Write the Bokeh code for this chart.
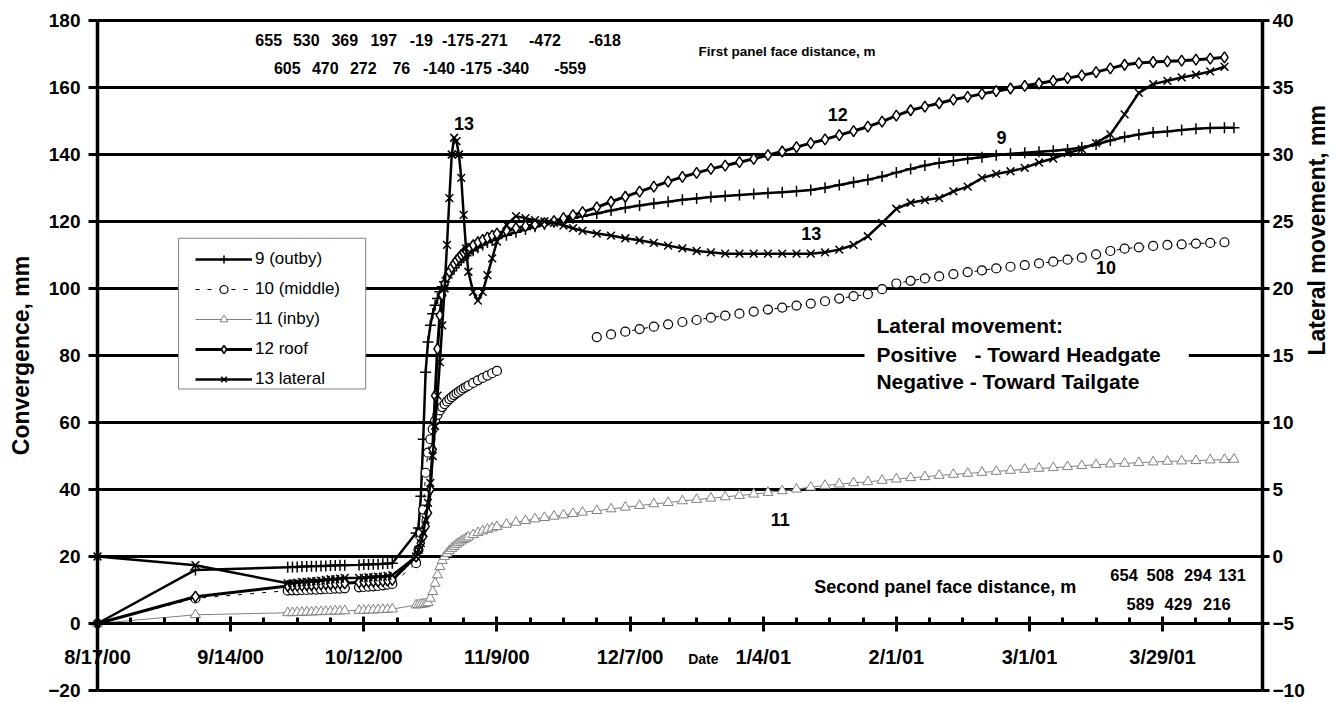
import math
import numpy as np
from datetime import date
from bokeh.plotting import figure
from bokeh.models import Range1d, LinearAxis, FixedTicker, Legend, LegendItem
from bokeh.core.properties import value
from bokeh.embed import file_html
from bokeh.resources import INLINE

NaN = float("nan")

# ---------------- data ----------------
START = date(2000, 8, 17)
END = date(2001, 4, 19)
TICK_DATES = [date(2000, 8, 17), date(2000, 9, 14), date(2000, 10, 12), date(2000, 11, 9),
              date(2000, 12, 7), date(2001, 1, 4), date(2001, 2, 1), date(2001, 3, 1),
              date(2001, 3, 29)]
CONV_TICKS = list(range(-20, 181, 20))
LAT_TICKS = list(range(-10, 41, 5))

# days since 8/17/00
days = [0, 20.6,
        40, 41, 42, 43, 44, 45, 46, 47, 48, 49, 50, 51, 52,
        55, 56, 57, 58, 59, 60, 61, 62,
        67, 67.5, 68, 68.5, 69, 69.5, 70, 70.5, 71, 71.5, 72, 72.5, 73, 73.5, 74, 74.5, 75, 75.5, 76, 76.5, 77, 77.5, 78,
        79, 80, 81, 82, 83, 84,
        86, 88, 90, 92, 94, 96, 98, 100, 102,
        105, 108, 111, 114, 117, 120, 123, 126, 129, 132, 135, 138, 141, 144, 147, 150, 153, 156, 159, 162,
        165, 168, 171, 174, 177, 180, 183, 186, 189, 192, 195, 198, 201, 204, 207, 210, 213, 216, 219, 222,
        225, 228, 231, 234, 237,
        239]

conv_9 = [0, 16,
          16.8, 16.9, 16.9, 17.0, 17.0, 17.1, 17.1, 17.2, 17.2, 17.3, 17.3, 17.4, 17.4,
          17.5, 17.6, 17.6, 17.7, 17.7, 17.8, 17.9, 18.0,
          27, 28.5, 38, 55, 75, 84, 89, 92.5, 95, 97, 99, 100.5, 102, 103.2, 104.3, 105.3, 106.2, 107, 107.8, 108.5, 109.2, 109.8, 110.4,
          111.3, 112.2, 113, 113.7, 114.3, 114.9,
          115.9, 116.8, 117.6, 118.4, 119.1, 119.8, 120.4, 121, 121.6,
          122.4, 123.3, 124.1, 124.8, 125.4, 125.9, 126.5, 126.9, 127.3, 127.6, 127.9, 128.2, 128.5, 128.7, 129, 129.4, 130.1, 130.9, 131.7, 132.5,
          133.4, 134.6, 135.7, 136.7, 137.5, 138.1, 138.7, 139.2, 139.8, 140.2, 140.5, 140.8, 141.1, 141.5, 142.1, 143, 144.2, 145.2, 146, 146.6,
          146.9, 147.3, 147.7, 147.9, 148,
          148]

conv_10 = [0, 7.5,
           9.8, 9.9, 9.9, 10.0, 10.0, 10.1, 10.1, 10.2, 10.3, 10.3, 10.4, 10.4, 10.5,
           10.8, 10.9, 11.0, 11.1, 11.2, 11.4, 11.6, 11.8,
           18, 22, 27, 34, 45, 51, 55, 58, 60.5, 62.3, 63.6, 64.6, 65.5, 66.3, 67, 67.6, 68.2, 68.7, 69.2, 69.7, 70.2, 70.6, 71,
           71.8, 72.6, 73.3, 74, 74.7, 75.4,
           NaN, NaN, NaN, NaN, NaN, NaN, NaN, NaN, NaN,
           85.5, 86.3, 87.1, 87.9, 88.6, 89.3, 90, 90.6, 91.3, 91.9, 92.5, 93.1, 93.7, 94.3, 94.9, 95.5, 96.2, 97, 97.7, 98.3,
           99.8, 101.5, 102.3, 103, 103.6, 104.3, 104.9, 105.4, 106, 106.5, 107, 107.5, 108, 108.6, 109.2, 110.2, 111.2, 111.9, 112.3, 112.7,
           113, 113.2, 113.4, 113.6, 113.8,
           NaN]

conv_11 = [0, 2.6,
           3.2, 3.2, 3.3, 3.3, 3.4, 3.4, 3.5, 3.5, 3.6, 3.6, 3.7, 3.7, 3.8,
           3.9, 3.9, 4.0, 4.0, 4.1, 4.2, 4.2, 4.3,
           5.5, 5.6, 5.7, 5.8, 5.9, 6.2, 7.5, 9.5, 12, 14.5, 17, 18.8, 20, 20.9, 21.7, 22.4, 23, 23.6, 24.1, 24.6, 25, 25.4, 25.8,
           26.5, 27.1, 27.6, 28.1, 28.5, 28.9,
           29.6, 30.2, 30.7, 31.2, 31.6, 32, 32.4, 32.8, 33.2,
           33.7, 34.2, 34.7, 35.2, 35.7, 36.1, 36.6, 37, 37.4, 37.8, 38.2, 38.6, 39.1, 39.6, 40.1, 40.7, 41.2, 41.6, 42, 42.3,
           42.7, 43.1, 43.5, 43.8, 44.2, 44.5, 44.8, 45.1, 45.4, 45.7, 46, 46.3, 46.5, 46.8, 47.1, 47.4, 47.6, 47.8, 48, 48.2,
           48.4, 48.5, 48.6, 48.8, 48.9,
           49]

conv_12 = [0, 8,
           11.2, 11.3, 11.3, 11.4, 11.5, 11.5, 11.6, 11.7, 11.8, 11.8, 11.9, 12.0, 12.0,
           12.3, 12.4, 12.5, 12.6, 12.6, 12.7, 12.8, 13.0,
           20, 22, 24, 26, 29, 33, 40, 52, 68, 82, 92, 98, 101.5, 103.5, 105, 106.3, 107.4, 108.4, 109.2, 110, 110.7, 111.3, 111.9,
           112.9, 113.8, 114.5, 115.2, 115.8, 116.4,
           117.3, 118, 118.6, 119.1, 119.5, 120.1, 121, 121.9, 122.8,
           124.2, 125.9, 127.4, 128.9, 130.4, 131.9, 133.3, 134.5, 135.7, 136.7, 137.7, 138.7, 139.8, 140.9, 142.2, 143.4, 144.5, 145.8, 147, 148.3,
           149.8, 151.6, 153.2, 154.3, 155.3, 156.4, 157.2, 158.1, 158.9, 159.7, 160.5, 161.2, 162, 162.8, 163.6, 164.6, 165.7, 166.8, 167.3, 167.6,
           167.8, 168, 168.3, 168.6, 169,
           NaN]

lateral_13 = [0.0, -0.65,
              -2.0, -2.0, -1.95, -1.9, -1.9, -1.85, -1.85, -1.8, -1.75, -1.7, -1.7, -1.65, -1.6,
              -1.6, -1.6, -1.55, -1.55, -1.5, -1.5, -1.45, -1.4,
              0.0, 0.5, 1.0, 1.75, 2.75, 4.0, 5.5, 7.5, 9.75, 12.0, 14.5, 17.25, 20.0, 23.25, 26.75, 30.0, 31.25, 31.0, 30.0, 28.25, 25.5, 23.0, 21.25,
              19.75, 19.1, 19.75, 21.0, 22.25, 23.5,
              24.75, 25.4, 25.25, 25.1, 25.0, 24.9, 24.7, 24.5, 24.3,
              24.1, 23.95, 23.75, 23.6, 23.4, 23.2, 23.0, 22.8, 22.7, 22.6, 22.6, 22.6, 22.6, 22.6, 22.6, 22.6, 22.7, 22.9, 23.25, 23.9,
              24.9, 25.95, 26.4, 26.6, 26.75, 27.25, 27.6, 28.25, 28.55, 28.75, 29.0, 29.4, 29.7, 30.1, 30.4, 30.85, 31.5, 33.0, 34.6, 35.25,
              35.5, 35.75, 35.95, 36.2, 36.55,
              NaN]

series_names = ["9 (outby)", "10 (middle)", "11 (inby)", "12 roof", "13 lateral"]

# face distance annotations (first panel, top) and (second panel, bottom right)
first_row1 = ["655", "530", "369", "197", "-19", "-175", "-271", "-472", "-618"]
first_row1_days = [36.0, 43.9, 52.0, 60.2, 68.1, 75.8, 82.9, 94.1, 106.7]
first_row2 = ["605", "470", "272", "76", "-140", "-175", "-340", "-559"]
first_row2_days = [39.9, 47.9, 55.9, 63.9, 71.8, 79.6, 87.4, 99.4]
second_row1 = ["654", "508", "294", "131"]
second_row1_days = [215.9, 223.5, 231.4, 238.6]
second_row2 = ["589", "429", "216"]
second_row2_days = [219.3, 227.3, 235.4]

curve_labels = ["13", "12", "9", "13", "10", "11"]
curve_label_days = [77.1, 155.7, 190.1, 150.1, 212.1, 143.6]
curve_label_vals = [149.2, 151.8, 145.0, 116.3, 106.2, 30.9]

note_lines = ["Lateral movement:",
              "Positive\u00a0\u00a0 - Toward Headgate",
              "Negative - Toward Tailgate"]

# ---------------- layout constants (pixels) ----------------
W, H = 1337, 702
FRAME_L, FRAME_R, FRAME_T, FRAME_B = 97, 1262, 20, 690
FONT = "Liberation Sans"


def dnum(d):
    return (d - START).days


def dlabel(d):
    return f"{d.month}/{d.day}/{d.year % 100:02d}"


x0d, x1d = dnum(START), dnum(END)
sx = (FRAME_R - FRAME_L) / (x1d - x0d)
sy = (FRAME_B - FRAME_T) / (CONV_TICKS[-1] - CONV_TICKS[0])
xr = Range1d(x0d - FRAME_L / sx, x1d + (W - FRAME_R) / sx)
yr = Range1d(CONV_TICKS[0] - (H - FRAME_B) / sy, CONV_TICKS[-1] + FRAME_T / sy)
lat_scale = (LAT_TICKS[-1] - LAT_TICKS[0]) / (CONV_TICKS[-1] - CONV_TICKS[0])
lat_r = Range1d(LAT_TICKS[0] + (yr.start - CONV_TICKS[0]) * lat_scale,
                LAT_TICKS[-1] + (yr.end - CONV_TICKS[-1]) * lat_scale)

x = np.array(days, dtype=float)
y9 = np.array(conv_9, dtype=float)
y10 = np.array(conv_10, dtype=float)
y11 = np.array(conv_11, dtype=float)
y12 = np.array(conv_12, dtype=float)
y13 = np.array(lateral_13, dtype=float)

p = figure(width=W, height=H, output_backend="svg", toolbar_location=None,
           x_range=xr, y_range=yr, x_axis_location=None, y_axis_location=None,
           min_border=0, background_fill_color="white", border_fill_color="white")
p.extra_y_ranges = {"lat": lat_r}
p.outline_line_color = None
p.grid.visible = False


def style_axis(ax, label_size):
    ax.axis_line_color = "black"
    ax.major_tick_line_color = "black"
    ax.major_tick_line_width = 3
    ax.major_label_text_font = FONT
    ax.major_label_text_font_style = "bold"
    ax.major_label_text_font_size = label_size
    ax.major_label_text_color = "black"
    ax.axis_label_text_font = FONT
    ax.axis_label_text_font_style = "bold"
    ax.axis_label_text_font_size = "23px"
    ax.axis_label_text_color = "black"


# horizontal grid lines (also form the top and bottom frame lines)
p.segment(x0=[x0d] * len(CONV_TICKS), x1=[x1d] * len(CONV_TICKS), y0=CONV_TICKS, y1=CONV_TICKS,
          line_color="black", line_width=3)

# left axis at 8/17/00
ya = LinearAxis(fixed_location=x0d, bounds=(CONV_TICKS[0], CONV_TICKS[-1]),
                ticker=FixedTicker(ticks=CONV_TICKS), axis_label="Convergence, mm")
style_axis(ya, "19px")
ya.axis_line_width = 3.5
ya.major_tick_in = 0
ya.major_tick_out = 9
ya.minor_tick_line_color = None
ya.major_label_standoff = 8
ya.axis_label_standoff = 11
p.add_layout(ya, "left")

# right axis (lateral movement) at the end date
ra = LinearAxis(y_range_name="lat", fixed_location=x1d, bounds=(LAT_TICKS[0], LAT_TICKS[-1]),
                ticker=FixedTicker(ticks=LAT_TICKS), axis_label="Lateral movement, mm")
style_axis(ra, "19px")
ra.axis_label_orientation = math.pi / 2
ra.axis_line_width = 3.5
ra.major_tick_in = 0
ra.major_tick_out = 7
ra.minor_tick_line_color = None
ra.major_label_standoff = 3
ra.axis_label_standoff = 9
p.add_layout(ra, "right")

# date axis at convergence = 0
xa = LinearAxis(fixed_location=0, bounds=(x0d, x1d))
xa.ticker = FixedTicker(ticks=[dnum(d) for d in TICK_DATES],
                        minor_ticks=list(range(x0d, x1d + 1, 7)))
xa.major_label_overrides = {dnum(d): dlabel(d) for d in TICK_DATES}
style_axis(xa, "20px")
xa.axis_line_width = 3
xa.major_tick_in = 7
xa.major_tick_out = 8
xa.minor_tick_in = 6
xa.minor_tick_out = 0
xa.minor_tick_line_width = 3
xa.minor_tick_line_color = "black"
xa.major_label_standoff = 14
p.add_layout(xa, "below")

# legend frame and note background boxes
p.quad(left=[17.05], right=[56.4], bottom=[70], top=[115],
       fill_color="white", line_color="#808080", line_width=1)
p.quad(left=[161.3], right=[229.5], bottom=[69.7], top=[93.4],
       fill_color="white", line_color=None)

# series
l9 = p.line(x, y9, line_color="black", line_width=2.5)
m9 = p.scatter(x, y9, marker="cross", size=11, line_color="black", line_width=1.5)
l10 = p.line(x, y10, line_color="black", line_width=1, line_dash="4 8")
m10 = p.scatter(x, y10, marker="circle", size=9, fill_color="white", line_color="black", line_width=1.2)
l11 = p.line(x, y11, line_color="#808080", line_width=1)
m11 = p.scatter(x, y11, marker="triangle", size=10, fill_color="white", line_color="#808080", line_width=1)
l12 = p.line(x, y12, line_color="black", line_width=3)
m12 = p.scatter(x, y12, marker="diamond", size=11, fill_color="white", line_color="black", line_width=1.5)
l13 = p.line(x, y13, y_range_name="lat", line_color="black", line_width=2.5)
m13 = p.scatter(x, y13, y_range_name="lat", marker="x", size=11, line_color="black", line_width=1.5)

legend = Legend(items=[LegendItem(label=series_names[0], renderers=[l9, m9]),
                       LegendItem(label=series_names[1], renderers=[l10, m10]),
                       LegendItem(label=series_names[2], renderers=[l11, m11]),
                       LegendItem(label=series_names[3], renderers=[l12, m12]),
                       LegendItem(label=series_names[4], renderers=[l13, m13])],
                location=(195, 313), margin=0, padding=5, spacing=10,
                glyph_width=57, glyph_height=20, label_height=20, label_standoff=3,
                label_text_font=FONT, label_text_font_size="17px", label_text_color="black",
                border_line_color=None, background_fill_alpha=0)
p.add_layout(legend)


def txt(xs, ys, texts, size, align="center"):
    p.text(x=xs, y=ys, text=texts, text_font=value(FONT), text_font_style="bold",
           text_font_size=size, text_align=align, text_baseline="middle", text_color="black")


txt(first_row1_days, [174.3] * len(first_row1), first_row1, "16px")
txt(first_row2_days, [165.7] * len(first_row2), first_row2, "16px")
txt(second_row1_days, [14.5] * len(second_row1), second_row1, "16.5px")
txt(second_row2_days, [5.9] * len(second_row2), second_row2, "16.5px")
txt([145.0], [170.8], ["First panel face distance, m"], "13.5px")
txt([178.3], [11.0], ["Second panel face distance, m"], "18px")
txt(curve_label_days, curve_label_vals, curve_labels, "18px")
txt([163.8] * 3, [89.0, 80.4, 72.1], note_lines, "21px", align="left")
txt([127.4], [-10.5], ["Date"], "14px")

open("out.html", "w").write(file_html(p, INLINE))
